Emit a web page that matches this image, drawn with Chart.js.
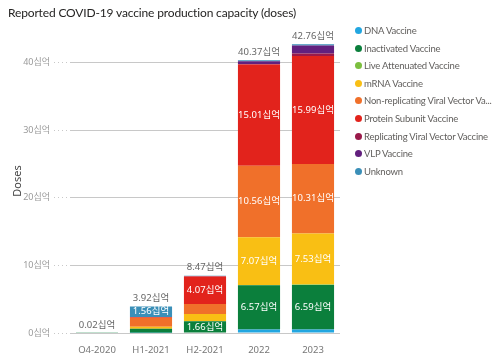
<!DOCTYPE html>
<html>
<head>
<meta charset="utf-8">
<script src="https://cdn.jsdelivr.net/npm/chart.js@4.4.0/dist/chart.umd.min.js"></script>
<style>
  html, body { margin: 0; padding: 0; background: #fff; }
  #wrap { position: relative; width: 500px; height: 353px; }
  #title { position: absolute; left: 8px; top: 5px; font: 12px Lato, 'Noto Sans', sans-serif; letter-spacing: -0.15px; color: #252423; white-space: nowrap; }
  #legend { position: absolute; left: 355px; top: 22px; font: 9.5px Lato, 'Noto Sans', sans-serif; letter-spacing: -0.2px; color: #605e5c; }
  #legend div { height: 17.6px; line-height: 17.6px; white-space: nowrap; }
  #legend span { display: inline-block; width: 7px; height: 7px; border-radius: 50%; margin-right: 2px; vertical-align: 0px; }
</style>
</head>
<body>
<div id="wrap">
  <canvas id="chart" width="500" height="353"></canvas>
  <div id="title">Reported COVID-19 vaccine production capacity (doses)</div>
  <div id="legend"></div>
</div>
<script>
// categories and series (billions of doses)
const categories = ['Q4-2020', 'H1-2021', 'H2-2021', '2022', '2023'];
const seriesNames = ['DNA Vaccine', 'Inactivated Vaccine', 'Live Attenuated Vaccine', 'mRNA Vaccine',
  'Non-replicating Viral Vector Vaccine', 'Protein Subunit Vaccine', 'Replicating Viral Vector Vaccine',
  'VLP Vaccine', 'Unknown'];
const seriesColors = ['#22a6e0', '#0b7f3c', '#7cbf3f', '#f9bf14', '#f0702a', '#e2231c', '#9a1a4a', '#62207e', '#3a8fb8'];

const dna            = [0,    0.02, 0.08, 0.50,  0.50];
const inactivated    = [0.02, 0.60, 1.66, 6.57,  6.59];
const liveAttenuated = [0,    0,    0.01, 0.05,  0.10];
const mrna           = [0,    0.30, 1.05, 7.07,  7.53];
const nonReplicating = [0,    1.34, 1.50, 10.56, 10.31];
const proteinSubunit = [0,    0.10, 4.07, 15.01, 15.99];
const replicating    = [0,    0,    0.04, 0.05,  0.35];
const vlp            = [0,    0,    0.02, 0.40,  1.20];
const unknown        = [0,    1.56, 0.04, 0.16,  0.19];

const series = [dna, inactivated, liveAttenuated, mrna, nonReplicating, proteinSubunit, replicating, vlp, unknown];
const yTicks = [0, 10, 20, 30, 40];

const FONT = "'Noto Sans', 'Noto Sans CJK KR', sans-serif";
const fmt = v => v.toFixed(2) + '십억';

// legend
const legendEl = document.getElementById('legend');
seriesNames.forEach((name, i) => {
  const row = document.createElement('div');
  const shown = name.length > 33 ? name.slice(0, 31) + '...' : name;
  row.innerHTML = `<span style="background:${seriesColors[i]}"></span>${shown}`;
  legendEl.appendChild(row);
});

const labelPlugin = {
  id: 'barLabels',
  afterDatasetsDraw(chart) {
    const ctx = chart.ctx;
    ctx.save();
    ctx.font = `9.5px ${FONT}`;
    ctx.textAlign = 'center';
    ctx.textBaseline = 'middle';
    chart.data.datasets.forEach((ds, i) => {
      chart.getDatasetMeta(i).data.forEach((bar, j) => {
        const v = ds.data[j];
        if (v < 1.55) return;
        const p = bar.getProps(['x', 'y', 'base'], true);
        ctx.fillStyle = '#fff';
        ctx.fillText(fmt(v), p.x, (p.y + p.base) / 2);
      });
    });
    categories.forEach((c, j) => {
      const total = Math.round(series.reduce((s, arr) => s + arr[j], 0) * 100) / 100;
      const x = chart.scales.x.getPixelForValue(j);
      const y = chart.scales.y.getPixelForValue(total);
      ctx.fillStyle = '#666';
      ctx.fillText(fmt(total), x, y - 8);
    });
    ctx.restore();
  }
};

new Chart(document.getElementById('chart'), {
  type: 'bar',
  data: {
    labels: categories,
    datasets: series.map((data, i) => ({
      label: seriesNames[i],
      data,
      backgroundColor: seriesColors[i],
      borderWidth: 0,
      barPercentage: 0.78,
      categoryPercentage: 1
    }))
  },
  options: {
    responsive: false,
    animation: false,
    layout: { padding: { top: 29, right: 160, left: 0, bottom: 0 } },
    plugins: { legend: { display: false }, tooltip: { enabled: false } },
    scales: {
      x: {
        stacked: true,
        grid: { display: false },
        border: { display: false },
        ticks: { color: '#777', font: { family: FONT, size: 9.5 }, padding: 4 },
        afterFit: s => { s.height = 20; }
      },
      y: {
        stacked: true,
        min: 0,
        max: 45,
        afterBuildTicks: s => { s.ticks = yTicks.map(v => ({ value: v })); },
        afterFit: s => { s.width = 70; },
        border: { display: false },
        grid: { color: '#c8c8c8', borderDash: [1, 3], tickBorderDash: [1, 3], drawTicks: true, tickLength: 16 },
        ticks: { color: '#999', font: { family: FONT, size: 9 }, padding: 4, callback: v => v + '십억' },
        title: { display: true, text: 'Doses', color: '#444', font: { family: FONT, size: 11 }, padding: { top: 11 } }
      }
    }
  },
  plugins: [labelPlugin]
});
</script>
</body>
</html>
